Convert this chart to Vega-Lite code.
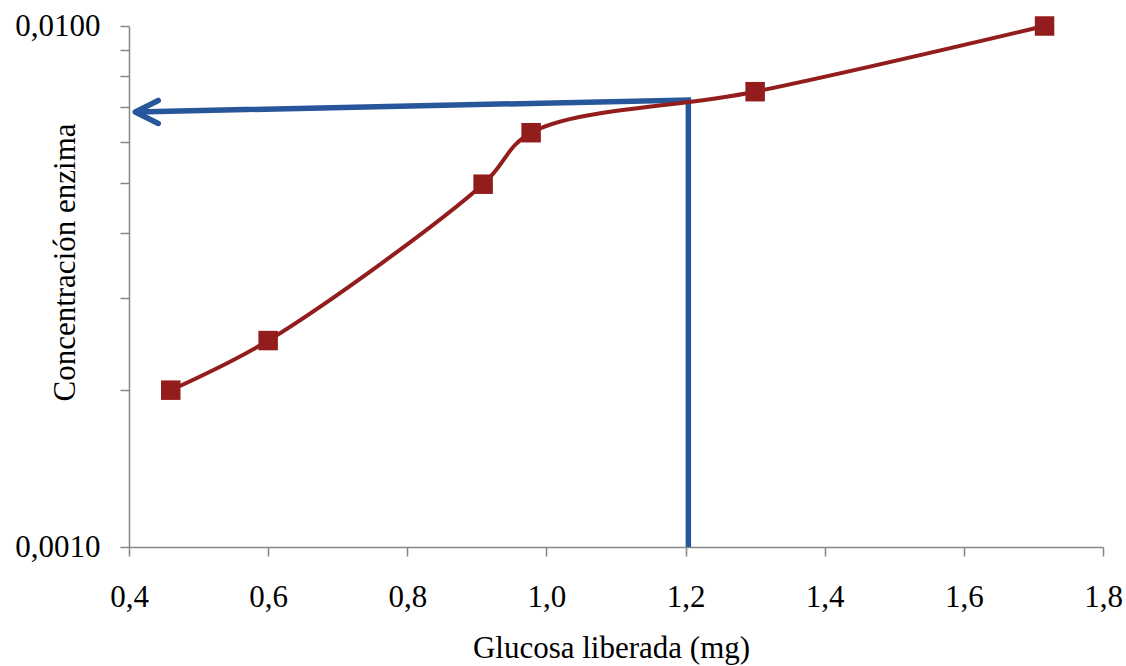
{
  "$schema": "https://vega.github.io/schema/vega-lite/v6.json",
  "width": 974,
  "height": 521,
  "autosize": {"type": "none"},
  "padding": {"left": 129, "top": 26, "right": 23, "bottom": 119},
  "background": "white",
  "config": {
    "view": {"stroke": null},
    "font": "Liberation Serif"
  },
  "datasets": {
    "curve": [
      {"x": 0.46, "y": 0.002},
      {"x": 0.6, "y": 0.00249},
      {"x": 0.909, "y": 0.00497},
      {"x": 0.978, "y": 0.00624},
      {"x": 1.3, "y": 0.00748},
      {"x": 1.716, "y": 0.01}
    ],
    "arrow": [
      {"i": 1, "x": 1.204, "y": 0.001},
      {"i": 2, "x": 1.204, "y": 0.00721},
      {"i": 3, "x": 0.411, "y": 0.00684}
    ],
    "tip": [
      {"x": 0.409, "y": 0.00684}
    ]
  },
  "encoding": {
    "x": {
      "field": "x",
      "type": "quantitative",
      "scale": {"domain": [0.4, 1.8], "nice": false, "zero": false},
      "axis": {
        "values": [0.4, 0.6, 0.8, 1.0, 1.2, 1.4, 1.6, 1.8],
        "labelExpr": "replace(format(datum.value, '.1f'), '.', ',')",
        "grid": false,
        "domainColor": "#868686",
        "domainWidth": 1.5,
        "tickColor": "#868686",
        "tickWidth": 1.5,
        "tickSize": 9,
        "labelFont": "Liberation Serif",
        "labelFontSize": 31,
        "labelColor": "#000000",
        "labelBaseline": "alphabetic",
        "labelPadding": 50,
        "labelFlush": false,
        "labelOverlap": false,
        "title": "Glucosa liberada (mg)",
        "titleFont": "Liberation Serif",
        "titleFontSize": 31,
        "titleFontWeight": "normal",
        "titleColor": "#000000",
        "titleX": 482,
        "titleY": 110,
        "titleAlign": "center",
        "titleBaseline": "alphabetic"
      }
    },
    "y": {
      "field": "y",
      "type": "quantitative",
      "scale": {"type": "log", "domain": [0.001, 0.01], "nice": false},
      "axis": {
        "values": [0.001, 0.002, 0.003, 0.004, 0.005, 0.006, 0.007, 0.008, 0.009, 0.01],
        "labelExpr": "(datum.value < 0.00101 || datum.value > 0.00999) ? replace(format(datum.value, '.4f'), '.', ',') : ''",
        "grid": false,
        "domainColor": "#868686",
        "domainWidth": 1.5,
        "tickColor": "#868686",
        "tickWidth": 1.5,
        "tickSize": 9,
        "labelFont": "Liberation Serif",
        "labelFontSize": 31,
        "labelColor": "#000000",
        "labelPadding": 20,
        "labelFlush": false,
        "labelOverlap": false,
        "title": "Concentración enzima",
        "titleFont": "Liberation Serif",
        "titleFontSize": 31,
        "titleFontWeight": "normal",
        "titleColor": "#000000",
        "titleAngle": -90,
        "titleX": -55,
        "titleY": 236,
        "titleAlign": "center",
        "titleBaseline": "alphabetic"
      }
    }
  },
  "layer": [
    {
      "data": {"name": "arrow"},
      "mark": {"type": "line", "color": "#27569A", "strokeWidth": 5.5, "strokeJoin": "miter", "strokeCap": "butt"},
      "encoding": {"order": {"field": "i", "type": "quantitative"}}
    },
    {
      "data": {"name": "tip"},
      "mark": {"type": "point", "shape": "M2,-1L0,0L2,1", "filled": false, "stroke": "#27569A", "strokeWidth": 5.5, "strokeCap": "round", "strokeJoin": "round", "size": 529, "opacity": 1}
    },
    {
      "data": {"name": "curve"},
      "mark": {"type": "line", "color": "#931C1C", "strokeWidth": 4, "interpolate": "catmull-rom"}
    },
    {
      "data": {"name": "curve"},
      "mark": {"type": "point", "shape": "square", "filled": true, "color": "#931C1C", "size": 380, "opacity": 1, "strokeWidth": 0}
    }
  ]
}
